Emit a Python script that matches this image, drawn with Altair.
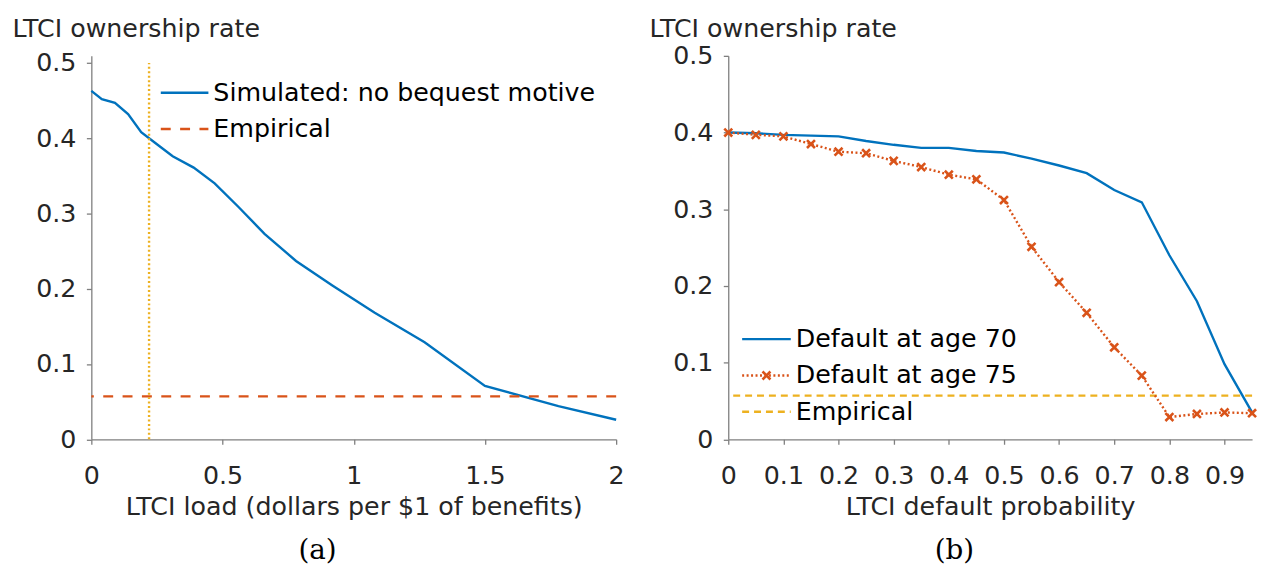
import altair as alt
import pandas as pd

# ---------------- data: panel (a) ----------------
load = [0, 0.04, 0.09, 0.14, 0.19, 0.25, 0.31, 0.39, 0.47, 0.56, 0.66, 0.78,
        0.92, 1.08, 1.27, 1.5, 1.78, 2.0]
own_sim = [0.463, 0.452, 0.447, 0.432, 0.408, 0.392, 0.376, 0.361, 0.340, 0.309,
           0.273, 0.237, 0.204, 0.168, 0.129, 0.071, 0.044, 0.026]
empirical_rate = [0.057]
observed_load = [0.22]

# ---------------- data: panel (b) ----------------
default_prob = [0, 0.05, 0.1, 0.15, 0.2, 0.25, 0.3, 0.35, 0.4, 0.45, 0.5, 0.55,
                0.6, 0.65, 0.7, 0.75, 0.8, 0.85, 0.9, 0.95]
own_age70 = [0.400, 0.399, 0.397, 0.396, 0.395, 0.389, 0.384, 0.380, 0.380, 0.376,
             0.374, 0.366, 0.357, 0.347, 0.325, 0.309, 0.240, 0.180, 0.098, 0.035]
own_age75 = [0.400, 0.397, 0.395, 0.385, 0.375, 0.373, 0.363, 0.355, 0.345, 0.339,
             0.312, 0.251, 0.205, 0.165, 0.120, 0.083, 0.029, 0.033, 0.035, 0.034]

x_ticks_a = [0, 0.5, 1, 1.5, 2]
x_ticks_b = [0, 0.1, 0.2, 0.3, 0.4, 0.5, 0.6, 0.7, 0.8, 0.9]
y_ticks = [0, 0.1, 0.2, 0.3, 0.4, 0.5]

legend_a = ["Simulated: no bequest motive", "Empirical"]
legend_b = ["Default at age 70", "Default at age 75", "Empirical"]

# ---------------- style ----------------
FONT = "DejaVu Sans"
FS = 25.5
BLUE = "#0072BD"
ORANGE = "#D95319"
YELLOW = "#EDB120"
AX = "#7f7f7f"
TXT = "#262626"
XPATH = "M-1,-1L1,1M1,-1L-1,1"
LW = 2.4

W_A, W_B, H = 529, 528, 386.5


def x_axis(values, title, width):
    return alt.Axis(values=values, format="~g", labelFlush=False, labelOverlap=False,
                    labelPadding=20, title=title, titleX=width / 2, titleAlign="center",
                    titleY=75.7, titleBaseline="alphabetic")


def y_axis():
    return alt.Axis(values=y_ticks, format="~g", labelFlush=False, labelOverlap=False,
                    labelPadding=10.5, title="LTCI ownership rate", titleAngle=0,
                    titleAlign="left", titleBaseline="alphabetic", titleX=-80, titleY=-20)


def legend_text(label, x, y):
    return alt.Chart(pd.DataFrame({"t": [label]})).mark_text(
        align="left", baseline="middle", font=FONT, fontSize=FS, color="black"
    ).encode(x=alt.value(x), y=alt.value(y), text="t:N")


def sub_label(label, x, y):
    return alt.Chart(pd.DataFrame({"t": [label]})).mark_text(
        align="center", baseline="alphabetic", font="DejaVu Serif", fontSize=28, color="black"
    ).encode(x=alt.value(x), y=alt.value(y), text="t:N")


# ---------------- panel (a) ----------------
xa = alt.X("load:Q", scale=alt.Scale(domain=[0, 2], nice=False, zero=False),
           axis=x_axis(x_ticks_a, "LTCI load (dollars per $1 of benefits)", W_A))
ya = alt.Y("own:Q", scale=alt.Scale(domain=[0, 0.5095], nice=False), axis=y_axis())

df_a = pd.DataFrame({"load": load, "own": own_sim})
sim_line = alt.Chart(df_a).mark_line(color=BLUE, strokeWidth=LW).encode(x=xa, y=ya)

emp_a = alt.Chart(pd.DataFrame({"own": empirical_rate})).mark_rule(
    color=ORANGE, strokeWidth=LW, strokeDash=[10, 9.5]).encode(y=ya)

vline = alt.Chart(pd.DataFrame({"load": observed_load, "own": [0], "own_top": [0.5]})).mark_rule(
    color=YELLOW, strokeWidth=LW, strokeDash=[2, 2.5]).encode(x=xa, y=ya, y2="own_top:Q")

leg_a = [
    alt.Chart(pd.DataFrame({"t": [legend_a[0]]})).mark_rule(color=BLUE, strokeWidth=LW).encode(
        x=alt.value(70), x2=alt.value(118), y=alt.value(37.2)),
    legend_text(legend_a[0], 123, 37.2),
    alt.Chart(pd.DataFrame({"t": [legend_a[1]]})).mark_rule(color=ORANGE, strokeWidth=LW,
                                                           strokeDash=[10, 9.5]).encode(
        x=alt.value(70), x2=alt.value(118), y=alt.value(73.8)),
    legend_text(legend_a[1], 123, 73.8),
    sub_label("(a)", 228, 507.5),
]

panel_a = alt.layer(sim_line, emp_a, vline, *leg_a).properties(width=W_A, height=H)

# ---------------- panel (b) ----------------
xb = alt.X("prob:Q", scale=alt.Scale(domain=[0, 0.95], nice=False, zero=False),
           axis=x_axis(x_ticks_b, "LTCI default probability", W_B))
yb = alt.Y("own:Q", scale=alt.Scale(domain=[0, 0.5], nice=False), axis=y_axis())

df70 = pd.DataFrame({"prob": default_prob, "own": own_age70})
df75 = pd.DataFrame({"prob": default_prob, "own": own_age75})

l70 = alt.Chart(df70).mark_line(color=BLUE, strokeWidth=LW).encode(x=xb, y=yb)
emp_b = alt.Chart(pd.DataFrame({"own": empirical_rate})).mark_rule(
    color=YELLOW, strokeWidth=LW, strokeDash=[7, 5]).encode(y=yb)
l75 = alt.Chart(df75).mark_line(color=ORANGE, strokeWidth=LW, strokeDash=[2, 2.5]).encode(x=xb, y=yb)
p75 = alt.Chart(df75).mark_point(shape=XPATH, size=64, filled=False, color=ORANGE,
                                 strokeWidth=2.6, opacity=1).encode(x=xb, y=yb)

leg_b = [
    alt.Chart(pd.DataFrame({"t": [legend_b[0]]})).mark_rule(color=BLUE, strokeWidth=LW).encode(
        x=alt.value(14), x2=alt.value(63), y=alt.value(285.5)),
    legend_text(legend_b[0], 68, 285.5),
    alt.Chart(pd.DataFrame({"t": [legend_b[1]]})).mark_rule(color=ORANGE, strokeWidth=LW,
                                                           strokeDash=[2, 2.5]).encode(
        x=alt.value(14), x2=alt.value(63), y=alt.value(322.2)),
    alt.Chart(pd.DataFrame({"t": [legend_b[1]]})).mark_point(shape=XPATH, size=64, filled=False,
                                                            color=ORANGE, strokeWidth=2.6,
                                                            opacity=1).encode(
        x=alt.value(38.5), y=alt.value(322.2)),
    legend_text(legend_b[1], 68, 322.2),
    alt.Chart(pd.DataFrame({"t": [legend_b[2]]})).mark_rule(color=YELLOW, strokeWidth=LW,
                                                           strokeDash=[7, 5]).encode(
        x=alt.value(14), x2=alt.value(63), y=alt.value(358.8)),
    legend_text(legend_b[2], 68, 358.8),
    sub_label("(b)", 228, 507.5),
]

panel_b = alt.layer(emp_b, l70, l75, p75, *leg_b).properties(width=W_B, height=H)

chart = alt.hconcat(panel_a, panel_b, spacing=24).configure(
    font=FONT, padding={"left": 4, "top": 6, "right": 0, "bottom": 0}
).configure_view(stroke=None).configure_axis(
    grid=False, domainColor=AX, tickColor=AX, domainWidth=1.3, tickWidth=1.3, tickSize=5,
    labelColor=TXT, labelFont=FONT, labelFontSize=FS, titleFont=FONT, titleFontSize=FS,
    titleColor=TXT, titleFontWeight="normal"
)

chart.save("out.html", embed_options={"renderer": "svg", "actions": False})
